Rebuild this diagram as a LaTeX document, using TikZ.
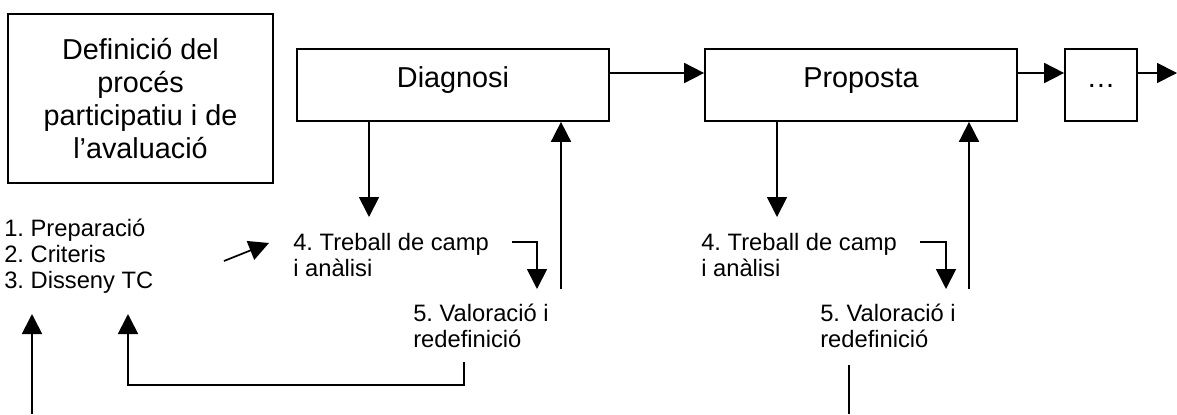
\documentclass[tikz,border=0pt]{standalone}
\usepackage{fontspec}
\setmainfont{Liberation Sans}
\frenchspacing
\usetikzlibrary{arrows.meta}

\begin{document}
\begin{tikzpicture}[x=0.75pt, y=-0.75pt,
    fase/.style={draw, line width=1.3pt, minimum height=54pt, text height=16pt, text depth=13pt, font=\fontsize{21.6}{24.5}\selectfont},
    pas/.style={anchor=base west, align=left, inner sep=0pt, font=\fontsize{17.8}{19.5}\selectfont},
    flow/.style={line width=1.3pt, -{Triangle[length=15pt, width=15pt]}},
    linia/.style={line width=1.3pt}]
    \useasboundingbox (0,0) rectangle (1177,414);

    % fases
    \node[draw, line width=1.3pt, align=center, minimum width=198.75pt, minimum height=126.75pt,
          font=\fontsize{21.6}{24.75}\selectfont] (def) at (140.5,98.5)
          {Definició del\\procés\\participatiu i de\\l’avaluació};
    \node[fase, minimum width=234pt] (diag) at (453,85) {Diagnosi};
    \node[fase, minimum width=234pt] (prop) at (861,85) {Proposta};
    \node[fase, minimum width=54pt] (dots) at (1101,85) {…};

    % passos (base = ultima linia)
    \node[pas] (pasos) at (4,288) {1. Preparació\\2. Criteris\\3. Disseny TC};
    \node[pas] (treb1) at (293,276) {4. Treball de camp\\i anàlisi};
    \node[pas] (val1) at (413,347) {5. Valoració i\\redefinició};
    \node[pas] (treb2) at (701,276) {4. Treball de camp\\i anàlisi};
    \node[pas] (val2) at (820,347) {5. Valoració i\\redefinició};

    % punts
    \coordinate (fi) at (1177,73);
    \coordinate (a1) at (369,217);
    \coordinate (a2) at (777,217);
    \coordinate (u1) at (561,289);
    \coordinate (u2) at (969,289);
    \coordinate (g1) at (512,242);
    \coordinate (t1) at (537,289);
    \coordinate (g2) at (920,242);
    \coordinate (t2) at (946,289);
    \coordinate (r1) at (464,362);
    \coordinate (r1c) at (128,385);
    \coordinate (r1t) at (128,314);
    \coordinate (e1) at (32,414);
    \coordinate (e1t) at (32,314);
    \coordinate (r2) at (849,365);
    \coordinate (r2b) at (849,414);
    \coordinate (s1) at (224,261);
    \coordinate (s1t) at (269,243);

    \draw[flow] ([yshift=9pt]diag.east) -- ([yshift=9pt]prop.west);
    \draw[flow] ([yshift=9pt]prop.east) -- ([yshift=9pt]dots.west);
    \draw[flow] ([yshift=9pt]dots.east) -- (fi);

    \draw[flow] (a1 |- diag.south) -- (a1);
    \draw[flow] (u1) -- (u1 |- diag.south);
    \draw[flow] (g1) -| (t1);
    \draw[flow] (r1) |- (r1c) -- (r1t);

    \draw[flow] (a2 |- prop.south) -- (a2);
    \draw[flow] (u2) -- (u2 |- prop.south);
    \draw[flow] (g2) -| (t2);
    \draw[linia] (r2) -- (r2b);

    \draw[flow] (e1) -- (e1t);
    \draw[flow] (s1) -- (s1t);
\end{tikzpicture}
\end{document}
